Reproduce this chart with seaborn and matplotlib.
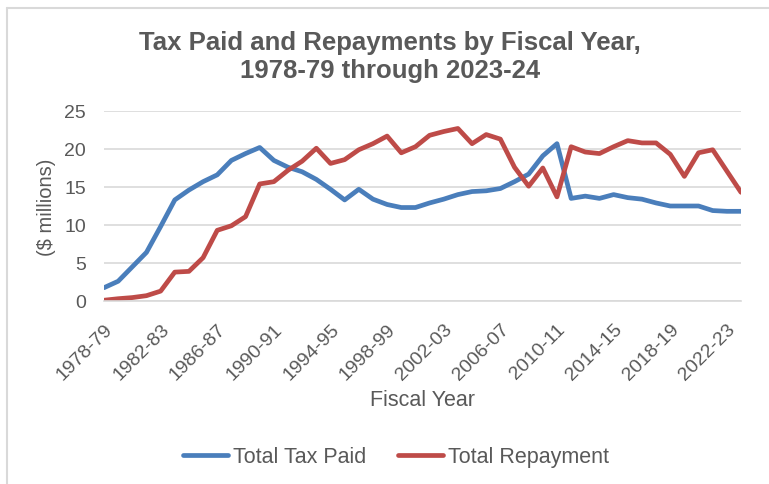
import numpy as np
import pandas as pd
import matplotlib
matplotlib.use("Agg")
import matplotlib.pyplot as plt
import seaborn as sns
from matplotlib.lines import Line2D

# === Data ===
fiscal_years = [f"{y}-{str(y + 1)[-2:]}" for y in range(1978, 2024)]
tax_paid = [1.75, 2.6, 4.5, 6.4, 9.8, 13.3, 14.6, 15.7, 16.6, 18.5,
            19.4, 20.2, 18.5, 17.6, 17.0, 16.0, 14.7, 13.3, 14.7, 13.4,
            12.7, 12.3, 12.3, 12.9, 13.4, 14.0, 14.4, 14.5, 14.8, 15.7,
            16.7, 19.1, 20.7, 13.5, 13.8, 13.5, 14.0, 13.6, 13.4, 12.9,
            12.5, 12.5, 12.5, 11.9, 11.8, 11.8]
repayment = [0.1, 0.3, 0.45, 0.7, 1.3, 3.8, 3.9, 5.7, 9.3, 9.9,
             11.1, 15.4, 15.7, 17.2, 18.4, 20.1, 18.1, 18.6, 19.9, 20.7,
             21.7, 19.5, 20.3, 21.8, 22.3, 22.7, 20.7, 21.9, 21.3, 17.6,
             15.1, 17.5, 13.7, 20.3, 19.6, 19.4, 20.3, 21.1, 20.8, 20.8,
             19.3, 16.4, 19.5, 19.9, 17.1, 14.3]
series_names = ["Total Tax Paid", "Total Repayment"]
y_ticks = [0, 5, 10, 15, 20, 25]

df = pd.DataFrame({
    "idx": list(range(len(fiscal_years))) * 2,
    "value": tax_paid + repayment,
    "series": [series_names[0]] * len(tax_paid) + [series_names[1]] * len(repayment),
})

# === Style ===
sns.set_style("white")
plt.rcParams["font.family"] = ["Liberation Sans", "DejaVu Sans"]
grey = "#595959"
palette = {series_names[0]: "#4A7EBB", series_names[1]: "#BE4B48"}

fig = plt.figure(figsize=(7.69, 4.85), dpi=100)
ax = fig.add_axes([104 / 769, 1 - 302 / 485, (741 - 104) / 769, (302 - 112) / 485])

sns.lineplot(data=df, x="idx", y="value", hue="series", palette=palette,
             linewidth=3.4, ax=ax, legend=False)

ax.set_xlim(0, len(fiscal_years) - 1)
ax.set_ylim(0, 25)
ax.set_yticks(y_ticks)
ax.set_yticklabels([str(v) for v in y_ticks], fontsize=14, color=grey)
ax.set_xticks(range(0, len(fiscal_years), 4))
ax.set_xticklabels(fiscal_years[::4], rotation=45, ha="right", rotation_mode="anchor",
                   fontsize=14, color=grey)
ax.set_xticks(range(len(fiscal_years)), minor=True)
ax.tick_params(axis="x", which="both", length=5, color="#D9D9D9", direction="out", pad=9)
ax.tick_params(axis="y", length=0, pad=13)
ax.yaxis.grid(True, color="#D9D9D9", linewidth=1.2)
ax.set_axisbelow(True)
for s in ["top", "right", "left"]:
    ax.spines[s].set_visible(False)
ax.spines["bottom"].set_color("#D9D9D9")
ax.spines["bottom"].set_linewidth(1.2)

ax.set_xlabel("Fiscal Year", fontsize=15.5, color=grey, va="center")
ax.xaxis.set_label_coords((423 - 104) / 637, (302 - 401) / 190)
ax.set_ylabel("($ millions)", fontsize=14.5, color=grey, va="center")
ax.yaxis.set_label_coords((47 - 104) / 637, (302 - 207) / 190)

fig.text(390 / 769, 1 - 57 / 485, "Tax Paid and Repayments by Fiscal Year,\n1978-79 through 2023-24",
         ha="center", va="center", fontsize=18.5, fontweight="bold", color=grey,
         linespacing=1.2)

handles = [Line2D([0], [0], color=palette[n], linewidth=3.4) for n in series_names]
fig.legend(handles, series_names, loc="center", bbox_to_anchor=(396 / 769, 1 - 458 / 485),
           ncol=2, frameon=False, fontsize=15.5, labelcolor=grey, handlelength=2.1,
           columnspacing=1.45, handletextpad=0.25)

# chart frame (top and left edge)
fig.add_artist(Line2D([7 / 769, 7 / 769], [0, 1 - 9 / 485], transform=fig.transFigure,
                      color="#D9D9D9", linewidth=1.5))
fig.add_artist(Line2D([7 / 769, 1], [1 - 9 / 485, 1 - 9 / 485], transform=fig.transFigure,
                      color="#D9D9D9", linewidth=1.5))

fig.savefig("out.png", dpi=100)
